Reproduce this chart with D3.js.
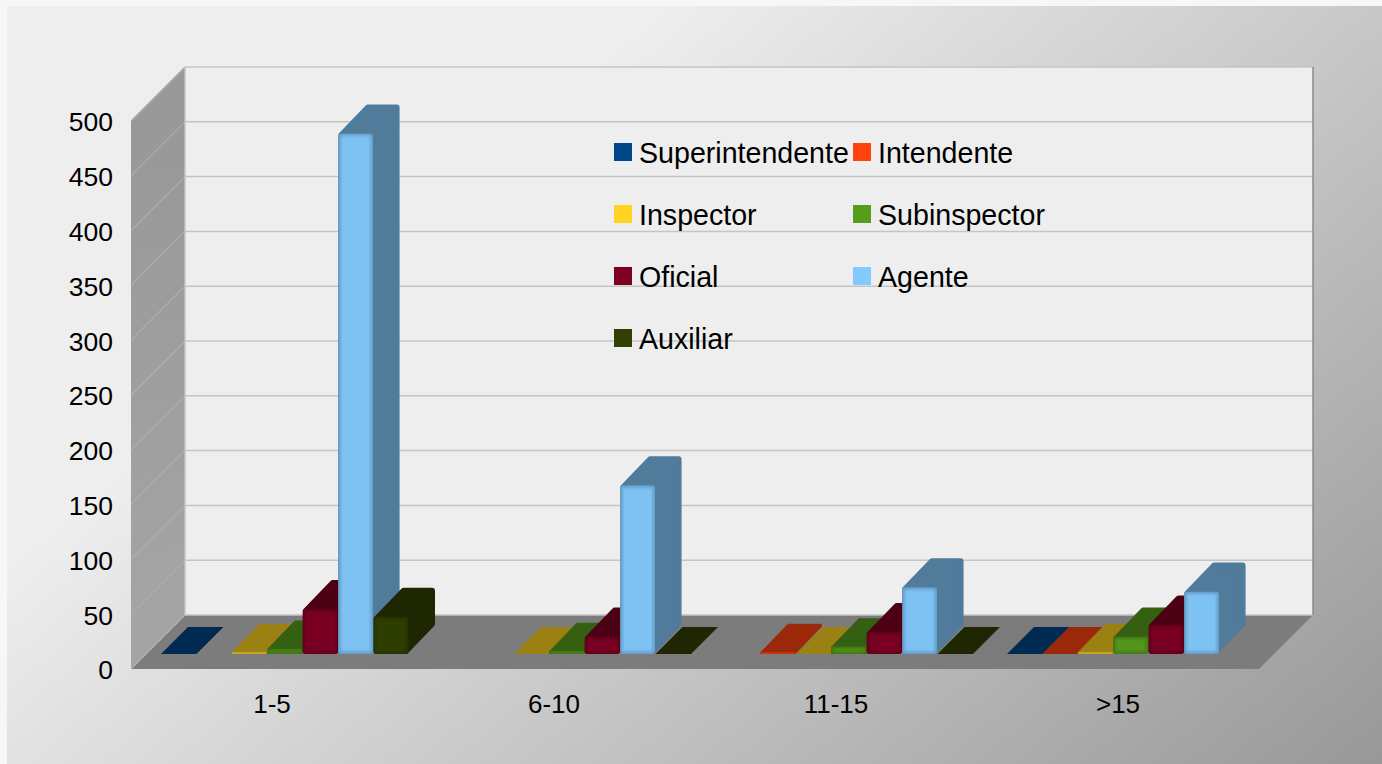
<!DOCTYPE html>
<html lang="en">
  <head>
    <meta charset="UTF-8" />
    <title>Chart</title>
    <style>
      body {
        margin: 0;
        overflow: hidden;
        background: #f7f7f7;
      }
      svg {
        display: block;
      }
      text {
        font-family: "Liberation Sans", sans-serif;
        fill: #000;
      }
    </style>
    <script src="https://cdn.jsdelivr.net/npm/d3@7"></script>
  </head>
  <body>
    <script>
      const categories = ["1-5", "6-10", "11-15", ">15"];
      const seriesNames = [
        "Superintendente",
        "Intendente",
        "Inspector",
        "Subinspector",
        "Oficial",
        "Agente",
        "Auxiliar",
      ];
      const colors = [
        "#004586",
        "#ff420e",
        "#ffd320",
        "#579d1c",
        "#7e0021",
        "#83caff",
        "#314004",
      ];
      // null = no bar at all, 0 = flat bar lying on the floor
      const superintendente = [0, null, null, 0];
      const intendente = [null, null, 2, 0];
      const inspector = [2, 0, 0, 2];
      const subinspector = [5, 3, 7, 16];
      const oficial = [41, 16, 20, 27];
      const agente = [475, 154, 61, 57];
      const auxiliar = [34, 0, 0, null];
      const seriesValues = [
        superintendente,
        intendente,
        inspector,
        subinspector,
        oficial,
        agente,
        auxiliar,
      ];
      const yTicks = [0, 50, 100, 150, 200, 250, 300, 350, 400, 450, 500];

      const width = 1382;
      const height = 764;
      const plotLeft = 131;
      const plotRight = 1259;
      const plotBottom = 669;
      const plotTop = 121;
      const depth = 54;
      const barInset = 15;
      const barDepth = 27;

      const svg = d3
        .select("body")
        .append("svg")
        .attr("width", width)
        .attr("height", height);

      const defs = svg.append("defs");

      const addGradient = (id, x1, y1, x2, y2, stops) => {
        const g = defs
          .append("linearGradient")
          .attr("id", id)
          .attr("gradientUnits", "userSpaceOnUse")
          .attr("x1", x1)
          .attr("y1", y1)
          .attr("x2", x2)
          .attr("y2", y2);
        stops.forEach((s) =>
          g.append("stop").attr("offset", s[0]).attr("stop-color", s[1])
        );
      };

      addGradient("bg", 283, 332, 960, 1127, [
        [0, "#eeeeee"],
        [1, "#989898"],
      ]);
      addGradient("wall", 131, 120, 185, 600, [
        [0, "#989898"],
        [1, "#a4a4a4"],
      ]);

      defs
        .append("filter")
        .attr("id", "soft")
        .attr("x", "-20%")
        .attr("y", "-20%")
        .attr("width", "140%")
        .attr("height", "140%")
        .append("feGaussianBlur")
        .attr("stdDeviation", 1.4);

      const x = d3.scaleBand().domain(categories).range([plotLeft, plotRight]);
      const xBar = d3.scaleBand().domain(seriesNames).range([0, 248]);
      const y = d3.scaleLinear().domain([0, 500]).range([plotBottom, plotTop]);

      const poly = (pts) => pts.map((p) => p.join(",")).join(" ");

      // page background
      svg
        .append("rect")
        .attr("x", 7)
        .attr("y", 6)
        .attr("width", width - 7)
        .attr("height", height - 6)
        .attr("fill", "url(#bg)");

      // back wall, side wall and floor
      svg
        .append("rect")
        .attr("x", plotLeft + depth)
        .attr("y", plotTop - depth)
        .attr("width", plotRight - plotLeft)
        .attr("height", plotBottom - plotTop)
        .attr("fill", "#eeeeee");

      svg
        .append("polygon")
        .attr(
          "points",
          poly([
            [plotLeft, plotTop],
            [plotLeft + depth, plotTop - depth],
            [plotLeft + depth, plotBottom - depth],
            [plotLeft, plotBottom],
          ])
        )
        .attr("fill", "url(#wall)");

      svg
        .append("polygon")
        .attr(
          "points",
          poly([
            [plotLeft, plotBottom],
            [plotLeft + depth, plotBottom - depth],
            [plotRight + depth, plotBottom - depth],
            [plotRight, plotBottom],
          ])
        )
        .attr("fill", "#7c7c7c");

      // gridlines run along the back wall and down the side wall
      yTicks.forEach((t) => {
        svg
          .append("line")
          .attr("x1", plotLeft)
          .attr("y1", y(t))
          .attr("x2", plotLeft + depth)
          .attr("y2", y(t) - depth)
          .attr("stroke", "#afafaf")
          .attr("stroke-width", 1.2);
        svg
          .append("line")
          .attr("x1", plotLeft + depth)
          .attr("y1", y(t) - depth)
          .attr("x2", plotRight + depth)
          .attr("y2", y(t) - depth)
          .attr("stroke", "#c4c4c4")
          .attr("stroke-width", 1.5);
      });
      svg
        .append("line")
        .attr("x1", plotRight + depth)
        .attr("x2", plotRight + depth)
        .attr("y1", plotTop - depth)
        .attr("y2", plotBottom - depth)
        .attr("stroke", "#8a8a8a")
        .attr("stroke-width", 1.5);
      svg
        .append("line")
        .attr("x1", plotLeft + depth)
        .attr("x2", plotLeft + depth)
        .attr("y1", plotTop - depth)
        .attr("y2", plotBottom - depth)
        .attr("stroke", "#c4c4c4")
        .attr("stroke-width", 1.5);

      const drawBar = (g, value, color, bx, id) => {
        const w = xBar.bandwidth();
        const base = y(0) - barInset;
        const h = y(0) - y(value);
        const dark = d3.rgb(color).darker(1.4);
        const bt = base - h;

        if (h < 0.5) {
          g.append("polygon")
            .attr(
              "points",
              poly([
                [bx, base],
                [bx + w, base],
                [bx + w + barDepth, base - barDepth],
                [bx + barDepth, base - barDepth],
              ])
            )
            .attr("fill", dark);
          return;
        }

        // silhouette of the top and side faces, rounded by a wide stroke.
        // low bars get a small radius or the stroke pokes out at the corners
        const r = h < 12 ? 0.5 : 3;
        const lift = h < 12 ? 0 : 1;
        g.append("polygon")
          .attr(
            "points",
            poly([
              [bx + r, bt + r - lift],
              [bx + barDepth + r, bt - barDepth + r - lift - 1],
              [bx + w + barDepth - r - 1, bt - barDepth + r - lift - 1],
              [bx + w + barDepth - r - 1, base - barDepth - r],
              [bx + w - r, base - r],
              [bx + r, base - r],
            ])
          )
          .attr("fill", dark)
          .attr("stroke", dark)
          .attr("stroke-width", r * 2)
          .attr("stroke-linejoin", "round");

        // front face: darker rim blurred into the fill
        const clipId = `clip-${id}`;
        defs
          .append("clipPath")
          .attr("id", clipId)
          .append("rect")
          .attr("x", bx)
          .attr("y", bt)
          .attr("width", w - 0.5)
          .attr("height", h)
          .attr("rx", Math.min(3, h / 2));
        const front = g.append("g").attr("clip-path", `url(#${clipId})`);
        front
          .append("rect")
          .attr("x", bx)
          .attr("y", bt)
          .attr("width", w)
          .attr("height", h)
          .attr("fill", d3.rgb(color).darker(0.7));
        if (h > 4) {
          front
            .append("rect")
            .attr("x", bx + 2.5)
            .attr("y", bt + 2.5)
            .attr("width", w - 5.5)
            .attr("height", h - 5)
            .attr("fill", d3.rgb(color).darker(0.12))
            .attr("filter", "url(#soft)");
        }
      };

      const bars = svg.append("g");
      categories.forEach((c, ci) => {
        seriesNames.forEach((s, si) => {
          const v = seriesValues[si][ci];
          if (v === null) return;
          const bx = x(c) + 30 + xBar(s);
          drawBar(bars.append("g"), v, colors[si], bx, `${ci}-${si}`);
        });
      });

      // axes
      const yAxis = d3
        .axisLeft(y)
        .tickValues(yTicks)
        .tickSize(0)
        .tickPadding(0);
      const yG = svg
        .append("g")
        .attr("transform", `translate(${plotLeft - 18},1.5)`)
        .call(yAxis);
      yG.select(".domain").remove();
      yG.selectAll("text")
        .attr("font-size", 26.5)
        .style("font-family", "'Liberation Sans', sans-serif");

      const xAxis = d3.axisBottom(x).tickSize(0).tickPadding(0);
      const xG = svg
        .append("g")
        .attr("transform", `translate(0,${plotBottom + 25.5})`)
        .call(xAxis);
      xG.select(".domain").remove();
      xG.selectAll("text")
        .attr("font-size", 26)
        .style("font-family", "'Liberation Sans', sans-serif");

      // legend, two columns
      const legendX = d3.scaleOrdinal().domain([0, 1]).range([614, 853]);
      const legendY = d3.scalePoint().domain([0, 1, 2, 3]).range([152, 338]);
      seriesNames.forEach((s, i) => {
        const col = i % 2;
        const row = Math.floor(i / 2);
        svg
          .append("rect")
          .attr("x", legendX(col))
          .attr("y", legendY(row) - 9)
          .attr("width", 18)
          .attr("height", 18)
          .attr("fill", colors[i]);
        svg
          .append("text")
          .attr("x", legendX(col) + 25)
          .attr("y", legendY(row) + 11)
          .attr("font-size", 28.6)
          .text(s);
      });
    </script>
  </body>
</html>
